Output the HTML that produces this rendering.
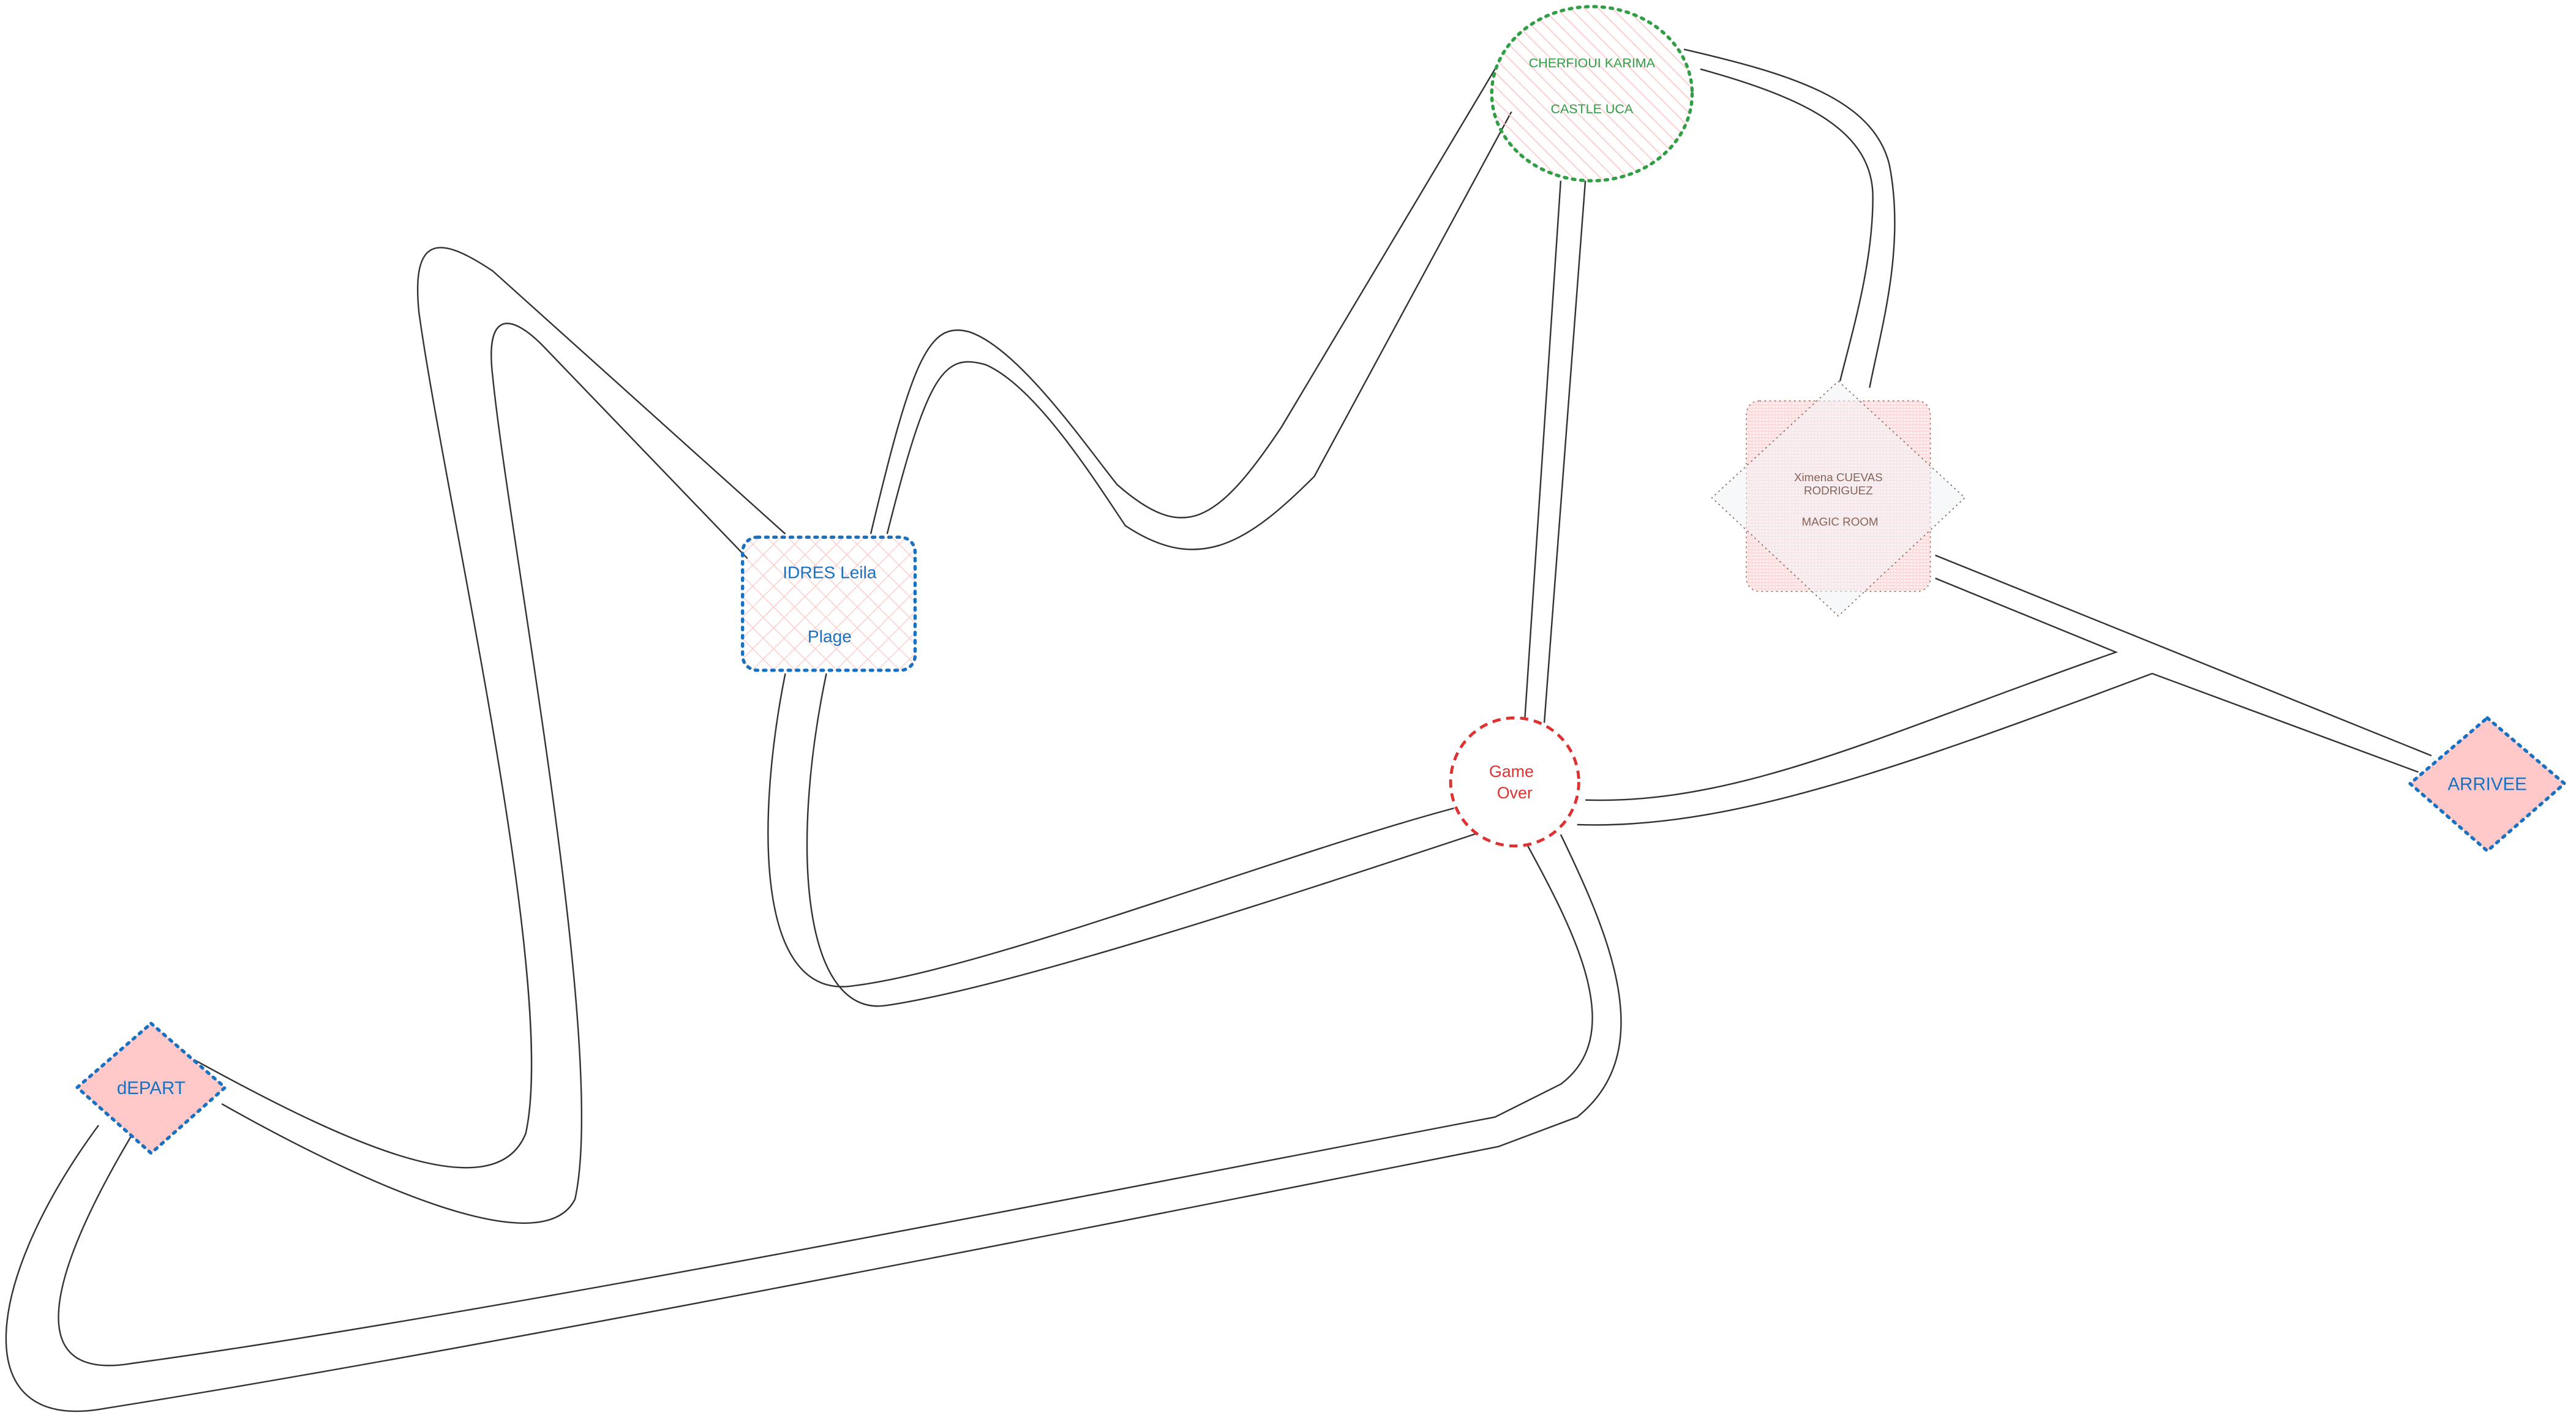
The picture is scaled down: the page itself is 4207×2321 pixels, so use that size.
<!DOCTYPE html>
<html><head><meta charset="utf-8"><style>
html,body{margin:0;padding:0;background:#fff;}
svg{display:block;}
text{font-family:"Liberation Sans",sans-serif;}
</style></head><body>
<svg width="4207" height="2321" viewBox="0 0 1568 865" xmlns="http://www.w3.org/2000/svg">
<defs>
<pattern id="hatch" width="6" height="6" patternUnits="userSpaceOnUse" patternTransform="rotate(-45)">
<line x1="0" y1="0" x2="0" y2="6" stroke="#ffc9c9" stroke-width="1.3"/></pattern>
<pattern id="cross" width="9" height="9" patternUnits="userSpaceOnUse" patternTransform="rotate(45)">
<line x1="0" y1="0" x2="0" y2="9" stroke="#ffc9c9" stroke-width="1"/>
<line x1="0" y1="0" x2="9" y2="0" stroke="#ffc9c9" stroke-width="1"/></pattern>
<pattern id="fine" width="2" height="2" patternUnits="userSpaceOnUse">
<rect width="2" height="2" fill="#fff"/><rect width="2" height="1" fill="#ffd0d0"/><rect width="1" height="2" fill="#ffdada"/></pattern>
</defs>
<rect width="1568" height="865" fill="#fff"/>
<g fill="none" stroke="#333" stroke-width="0.9">
<path d="M118,645 C200,690 300,740 320,690 C340,600 270,300 255,190 C250,140 270,145 300,165 L478,325"/>
<path d="M135,672 C220,720 330,770 350,730 C370,640 310,330 300,230 C295,190 310,190 330,210 L455,340"/>
<path d="M478,410 C460,500 460,610 520,600 C600,590 780,520 885,492"/>
<path d="M503,410 C480,520 490,620 540,612 C620,600 800,540 900,507"/>
<path d="M530,325 C555,220 565,195 590,202 C620,212 660,270 680,295 C720,330 740,320 780,260 L910,42"/>
<path d="M540,325 C565,225 575,215 600,222 C630,235 665,290 685,320 C730,350 760,330 800,290 L920,68"/>
<path d="M950,110 L928,440"/>
<path d="M965,110 L940,440"/>
<path d="M1025,30 C1090,45 1140,60 1150,100 C1160,150 1145,200 1138,236"/>
<path d="M1035,42 C1100,60 1140,80 1140,120 C1140,160 1128,200 1120,232"/>
<path d="M1178,338 L1480,460"/>
<path d="M1178,352 L1288,397 C1150,445 1060,490 965,487"/>
<path d="M1310,410 C1150,470 1050,505 960,502"/>
<path d="M1310,410 L1472,470"/>
<path d="M930,515 C960,570 990,630 950,660 L910,680 C700,720 300,800 80,830 C20,840 20,790 85,683"/>
<path d="M950,508 C980,570 1010,640 960,680 L912,698 C700,740 300,820 60,858 C-20,870 -10,780 60,685"/>
</g>
<path d="M92,623 L137,662 L92,702 L47,662 Z" fill="#ffc9c9" stroke="#1971c2" stroke-width="2" stroke-dasharray="1.5 3.5" stroke-linecap="round" stroke-linejoin="round"/>
<text x="92" y="666" font-size="11" fill="#1971c2" text-anchor="middle">dEPART</text>
<path d="M1514,437 L1561,477 L1514,518 L1467,477 Z" fill="#ffc9c9" stroke="#1971c2" stroke-width="2" stroke-dasharray="1.5 3.5" stroke-linecap="round" stroke-linejoin="round"/>
<text x="1514" y="481" font-size="11" fill="#1971c2" text-anchor="middle">ARRIVEE</text>
<rect x="452" y="327" width="105" height="81" rx="9" fill="url(#cross)" stroke="#1971c2" stroke-width="2" stroke-dasharray="1.5 3.5" stroke-linecap="round"/>
<text x="505" y="352" font-size="10.5" fill="#1971c2" text-anchor="middle">IDRES Leila</text>
<text x="505" y="391" font-size="10.5" fill="#1971c2" text-anchor="middle">Plage</text>
<ellipse cx="969" cy="57" rx="61" ry="53" fill="url(#hatch)" stroke="#2f9e44" stroke-width="2" stroke-dasharray="1.5 3.5" stroke-linecap="round"/>
<text x="969" y="41" font-size="8" fill="#2f9e44" text-anchor="middle">CHERFIOUI KARIMA</text>
<text x="969" y="69" font-size="8" fill="#2f9e44" text-anchor="middle">CASTLE UCA</text>
<circle cx="922" cy="476" r="39" fill="#fff" stroke="#e03131" stroke-width="1.8" stroke-dasharray="5 3.5"/>
<text x="920" y="473" font-size="10" fill="#e03131" text-anchor="middle">Game</text>
<text x="922" y="486" font-size="10" fill="#e03131" text-anchor="middle">Over</text>
<rect x="1063" y="244" width="112" height="116" rx="8" fill="url(#fine)" stroke="#846358" stroke-width="0.6" stroke-dasharray="1 2" opacity="0.9"/>
<path d="M1119,232 L1196,303 L1119,375 L1042,303 Z" fill="#f1f3f5" fill-opacity="0.55" stroke="#846358" stroke-width="0.6" stroke-dasharray="1 2" stroke-linejoin="round"/>
<text x="1119" y="293" font-size="7" fill="#846358" text-anchor="middle">Ximena CUEVAS</text>
<text x="1119" y="301" font-size="7" fill="#846358" text-anchor="middle">RODRIGUEZ</text>
<text x="1120" y="320" font-size="7" fill="#846358" text-anchor="middle">MAGIC ROOM</text>
</svg>
</body></html>
